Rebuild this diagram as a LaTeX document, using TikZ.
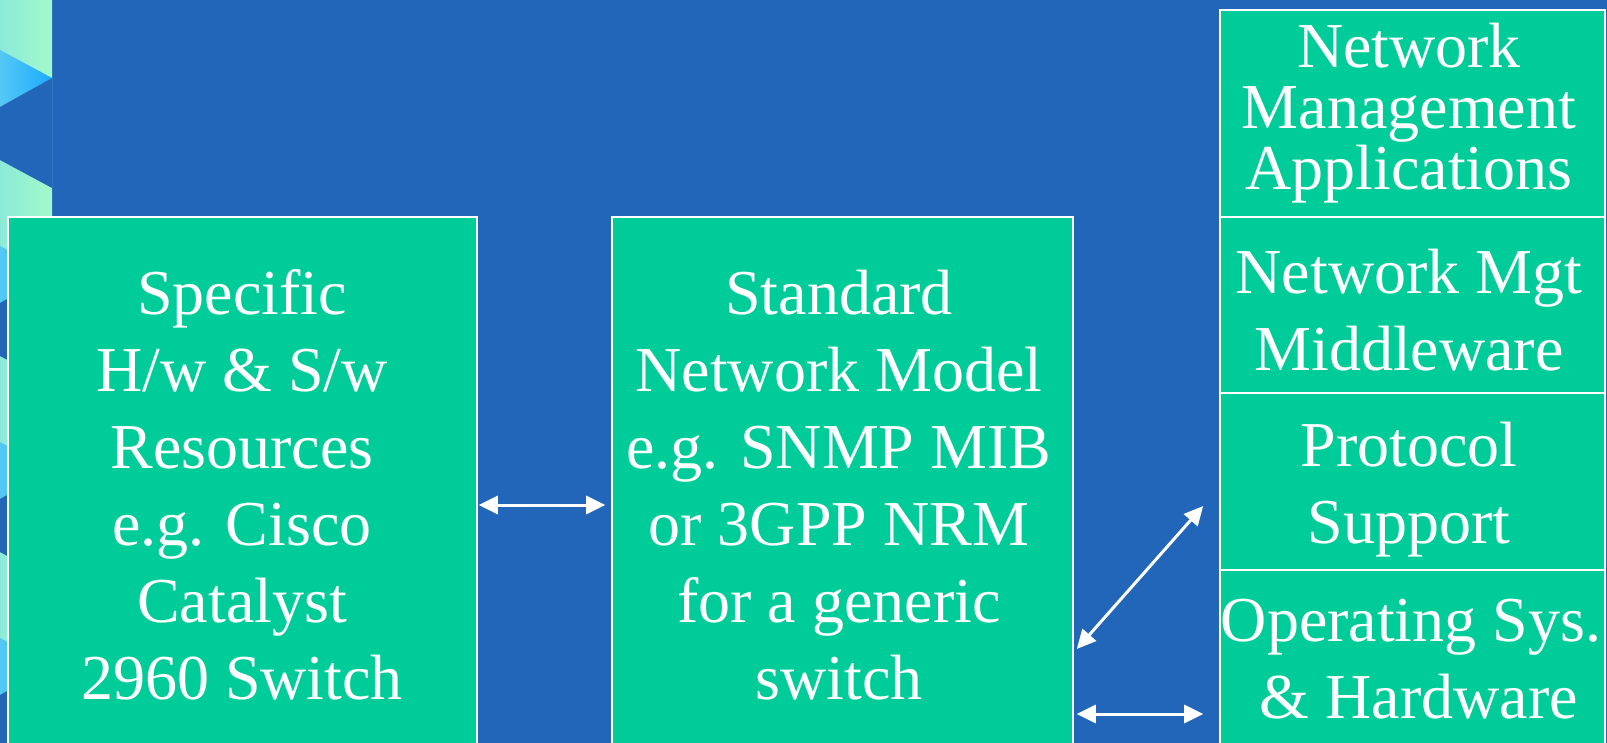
\documentclass[tikz,border=0pt]{standalone}
\usepackage{fontspec}
\setmainfont{Liberation Serif}
\usetikzlibrary{arrows.meta}
\definecolor{bgblue}{RGB}{33,102,185}
\definecolor{boxgreen}{RGB}{0,204,153}
\definecolor{stripL}{RGB}{140,234,216}
\definecolor{stripR}{RGB}{162,250,202}
\definecolor{chevL}{RGB}{85,200,245}
\definecolor{chevR}{RGB}{26,171,255}
\tikzset{
  panel/.style={draw=white, line width=1.6pt, fill=boxgreen, inner sep=0pt},
  paneltext/.style={text=white, align=center, inner sep=0pt,
    font=\rmfamily\fontsize{64}{77}\selectfont},
  link/.style={draw=white, line width=3pt,
    {Triangle[length=19pt,width=18pt]}-{Triangle[length=19pt,width=18pt]}}
}
\begin{document}
\begin{tikzpicture}[x=1pt, y=-1pt]
  % page and background
  \useasboundingbox (0,0) rectangle (1607,743);
  \fill[bgblue] (0,0) rectangle (1607,743);

  % decorative strip on the left edge
  \shade[left color=stripL, right color=stripR] (0,0) rectangle (52,743);
  \foreach \d in {0,196,392,588} {
    \shade[left color=chevL, right color=chevR]
      (0,50+\d) -- (52,78+\d) -- (0,107+\d) -- cycle;
    \fill[bgblue] (0,107+\d) -- (52,78+\d) -- (52,188+\d) -- (0,160+\d) -- cycle;
  }

  % device box
  \node[panel, minimum width=469pt, minimum height=528pt] (devbox) at (242.5,481) {};
  \node[paneltext] (devtext) at (242,485)
    {Specific\\H/w \& S/w\\Resources\\e.g. Cisco\\Catalyst\\2960 Switch};

  % model box
  \node[panel, minimum width=461pt, minimum height=528pt] (modelbox) at (842.5,481) {};
  \node[paneltext] (modeltext) at (839,485)
    {Standard\\Network Model\\e.g. SNMP MIB\\or 3GPP NRM\\for a generic\\switch};

  % management stack
  \node[panel, minimum width=385pt, minimum height=207pt] (appbox) at (1412.5,113.5) {};
  \node[panel, minimum width=385pt, minimum height=176pt] (midbox) at (1412.5,305) {};
  \node[panel, minimum width=385pt, minimum height=177pt] (protobox) at (1412.5,481.5) {};
  \node[panel, minimum width=385pt, minimum height=176pt] (osbox) at (1412.5,658) {};

  \node[paneltext, font=\rmfamily\fontsize{64}{61}\selectfont] (apptext) at (1409,113)
    {Network\\Management\\Applications};
  \node[paneltext] (midtext) at (1409,310) {Network Mgt\\Middleware};
  \node[paneltext] (prototext) at (1409,490) {Protocol\\Support};
  \node[paneltext] (ostext) at (1411,659) {Operating Sys.\\\hphantom{.}\& Hardware};

  % connectors
  \draw[link] ([xshift=1pt, yshift=-24pt]devbox.east) -- ([xshift=-6pt, yshift=-24pt]modelbox.west);
  \draw[link] ([xshift=3pt, yshift=-168pt]modelbox.east) -- ([xshift=-16pt, yshift=-24.5pt]protobox.west);
  \draw[link] ([xshift=3pt, yshift=-233pt]modelbox.east) -- ([xshift=-16pt, yshift=-56pt]osbox.west);
\end{tikzpicture}
\end{document}
